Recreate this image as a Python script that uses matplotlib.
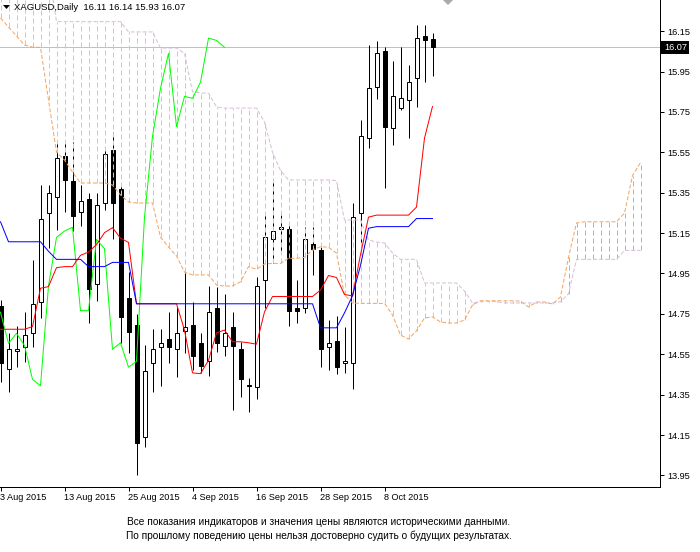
import matplotlib
matplotlib.use('Agg')
import matplotlib.pyplot as plt
from matplotlib.patches import Polygon, Rectangle
import matplotlib.transforms as mtransforms

plt.rcParams['font.family'] = ['Liberation Sans', 'DejaVu Sans']

# ---------------- data ----------------
symbol_title = "XAGUSD,Daily  16.11 16.14 15.93 16.07"
bid = 16.07

date_labels = ["3 Aug 2015", "13 Aug 2015", "25 Aug 2015", "4 Sep 2015",
               "16 Sep 2015", "28 Sep 2015", "8 Oct 2015"]
date_bars = [0, 8, 16, 24, 32, 40, 48]

price_ticks = [13.95, 14.15, 14.35, 14.55, 14.75, 14.95, 15.15, 15.35,
               15.55, 15.75, 15.95, 16.15]

opens = [14.789, 14.476, 14.565, 14.585, 14.654, 14.807, 15.248, 15.327, 15.532, 15.408,
         15.256, 15.319, 14.897, 15.297, 15.561, 15.367, 14.829, 14.695, 14.142, 14.505,
         14.585, 14.624, 14.575, 14.664, 14.694, 14.604, 14.517, 14.778, 14.593, 14.684,
         14.576, 14.398, 14.387, 14.918, 15.119, 15.169, 15.170, 14.778, 14.778, 15.095,
         15.066, 14.585, 14.616, 14.505, 14.505, 15.248, 15.619, 15.875, 16.051, 15.669,
         15.768, 15.807, 15.917, 16.124, 16.11]
highs = [14.82, 14.654, 14.692, 14.759, 15.017, 15.388, 15.388, 15.596, 15.601, 15.602,
         15.388, 15.347, 15.347, 15.576, 15.652, 15.388, 14.956, 14.750, 14.596, 14.674,
         14.674, 14.759, 14.786, 14.951, 14.810, 14.655, 14.888, 14.885, 14.850, 14.758,
         14.612, 14.434, 14.934, 15.256, 15.409, 15.240, 15.206, 14.918, 15.181, 15.181,
         15.083, 14.718, 14.740, 14.687, 15.301, 15.710, 16.081, 16.101, 16.070, 16.002,
         16.070, 15.982, 16.180, 16.180, 16.14]
lows = [14.414, 14.365, 14.486, 14.513, 14.585, 14.728, 15.075, 15.165, 15.254, 15.160,
        15.185, 14.706, 14.814, 15.264, 15.119, 14.604, 14.555, 13.953, 14.093, 14.365,
        14.395, 14.505, 14.436, 14.555, 14.472, 14.456, 14.443, 14.563, 14.543, 14.274,
        14.337, 14.263, 14.327, 14.778, 15.003, 15.058, 14.692, 14.706, 14.753, 14.943,
        14.486, 14.472, 14.452, 14.456, 14.377, 15.080, 15.570, 15.815, 15.375, 15.586,
        15.760, 15.619, 15.776, 15.900, 15.93]
closes = [14.507, 14.575, 14.578, 14.644, 14.799, 15.220, 15.347, 15.520, 15.415, 15.236,
          15.309, 14.873, 15.288, 15.542, 15.297, 14.736, 14.662, 14.112, 14.467, 14.576,
          14.604, 14.585, 14.654, 14.684, 14.543, 14.494, 14.758, 14.604, 14.654, 14.593,
          14.426, 14.394, 14.888, 15.129, 15.160, 15.179, 14.766, 14.766, 15.119, 15.073,
          14.575, 14.607, 14.486, 14.515, 15.228, 15.629, 15.867, 16.040, 15.677, 15.827,
          15.817, 15.897, 16.115, 16.104, 16.07]

tenkan = [14.674, 14.674, 14.674, 14.674, 14.687, 14.877, 14.885, 14.979, 14.984, 14.984,
          15.040, 15.056, 15.093, 15.152, 15.177, 15.125, 15.104, 14.80, 14.80, 14.80,
          14.80, 14.80, 14.80, 14.670, 14.458, 14.454, 14.520, 14.656, 14.670, 14.612,
          14.612, 14.607, 14.600, 14.760, 14.836, 14.836, 14.836, 14.836, 14.836, 14.836,
          14.868, 14.940, 14.930, 14.846, 14.839, 15.043, 15.229, 15.239, 15.239, 15.239,
          15.239, 15.239, 15.279, 15.620, 15.777]
kijun = [15.206, 15.107, 15.107, 15.107, 15.107, 15.107, 15.060, 15.020, 15.020, 15.020,
         15.020, 14.984, 14.984, 14.984, 15.005, 15.005, 15.005, 14.80, 14.80, 14.80,
         14.80, 14.80, 14.80, 14.80, 14.80, 14.80, 14.80, 14.80, 14.80, 14.80,
         14.80, 14.80, 14.80, 14.80, 14.80, 14.80, 14.80, 14.80, 14.80, 14.80,
         14.681, 14.681, 14.681, 14.755, 14.840, 14.990, 15.174, 15.182, 15.182, 15.182,
         15.182, 15.182, 15.222, 15.222, 15.222]

span_a = [16.215, 16.170, 16.126, 16.081, 16.071, 16.069, 15.809, 15.551, 15.512, 15.452,
          15.398, 15.398, 15.398, 15.398, 15.388, 15.339, 15.304, 15.299, 15.299, 15.299,
          15.130, 15.081, 15.037, 14.957, 14.943, 14.943, 14.943, 14.893, 14.888, 14.888,
          14.909, 14.984, 14.971, 14.997, 15.000, 15.000, 15.025, 15.025, 15.030, 15.066,
          15.083, 15.080, 15.051, 14.843, 14.804, 14.802, 14.802, 14.802, 14.802, 14.745,
          14.645, 14.626, 14.666, 14.730, 14.735, 14.710, 14.705, 14.705, 14.720, 14.794,
          14.815, 14.815, 14.815, 14.815, 14.815, 14.813, 14.784, 14.809, 14.809, 14.799,
          14.834, 15.030, 15.200, 15.206, 15.206, 15.206, 15.206, 15.206, 15.249, 15.435,
          15.499]
span_b = [16.45, 16.45, 16.45, 16.45, 16.45, 16.45, 16.45, 16.197, 16.197, 16.197,
          16.197, 16.197, 16.197, 16.197, 16.197, 16.197, 16.146, 16.146, 16.146, 16.146,
          16.066, 16.066, 16.066, 16.040, 15.850, 15.843, 15.843, 15.775, 15.769, 15.769,
          15.769, 15.769, 15.769, 15.700, 15.550, 15.460, 15.413, 15.413, 15.413, 15.413,
          15.413, 15.413, 15.410, 15.215, 15.215, 15.215, 15.116, 15.106, 15.101, 15.051,
          15.020, 15.020, 15.020, 14.903, 14.903, 14.903, 14.903, 14.903, 14.863, 14.804,
          14.811, 14.811, 14.811, 14.804, 14.804, 14.804, 14.804, 14.804, 14.804, 14.804,
          14.810, 14.849, 15.020, 15.020, 15.020, 15.020, 15.020, 15.020, 15.064, 15.064,
          15.064]

chikou_shift = 26

# ---------------- figure ----------------
W, H = 700, 552
fig = plt.figure(figsize=(W / 100, H / 100), dpi=100)
ax = fig.add_axes([0, 65 / H, 660 / W, 487 / H])

PX = 0.72  # one pixel in points
SANDY = '#F4A460'
THISTLE = '#D8BFD8'

n = len(closes)
xs = list(range(n))

ax.axhline(bid, color='#C0C0C0', lw=PX, zorder=1)

# candles
ax.vlines(xs, lows, highs, color='black', lw=PX, zorder=2)
bottoms = [min(o, c) for o, c in zip(opens, closes)]
heights = [abs(c - o) for o, c in zip(opens, closes)]
fills = ['white' if c >= o else 'black' for o, c in zip(opens, closes)]
ax.bar(xs, heights, bottom=bottoms, width=0.5, color=fills, edgecolor='black',
       lw=PX, zorder=2.5)

# cloud hatching
for i, (a, b) in enumerate(zip(span_a, span_b)):
    col = SANDY if a > b else THISTLE
    ax.vlines(i, min(a, b), max(a, b), colors=col, linestyles=[(0, (5, 3))],
              lw=PX, zorder=3)

# ichimoku lines
ax.plot(range(len(span_a)), span_a, color=SANDY, lw=PX, dashes=(4, 2), zorder=4)
ax.plot(range(len(span_b)), span_b, color=THISTLE, lw=PX, dashes=(4, 2), zorder=4)
ax.plot(range(len(tenkan)), tenkan, color='#FF0000', lw=PX, zorder=4.2)
ax.plot(range(len(kijun)), kijun, color='#0000FF', lw=PX, zorder=4.3)
ax.plot(range(n - chikou_shift), closes[chikou_shift:], color='#00FF00', lw=PX, zorder=4.1)

# axes
ax.set_xlim(-0.0625, 82.4375)
ax.set_ylim(13.893, 16.304)
for s in ['left', 'top']:
    ax.spines[s].set_visible(False)
for s in ['right', 'bottom']:
    ax.spines[s].set_linewidth(PX)
    ax.spines[s].set_color('black')

ax.yaxis.tick_right()
ax.set_yticks(price_ticks)
ax.set_yticklabels([f"{v:.2f}" for v in price_ticks])
ax.tick_params(axis='y', length=3, width=PX, pad=2, labelsize=6.6, colors='black')

ax.set_xticks(date_bars)
ax.set_xticklabels(date_labels)
ax.tick_params(axis='x', length=3, width=PX, pad=1, labelsize=6.6, colors='black')
for lab in ax.get_xticklabels():
    lab.set_horizontalalignment('left')

# current price label
trans = mtransforms.blended_transform_factory(ax.transAxes, ax.transData)
ax.add_patch(Rectangle((1.0 + 1 / 660, bid - 6.5 / 202), 28 / 660, 13 / 202,
                       transform=trans, facecolor='black', edgecolor='none',
                       clip_on=False, zorder=6))
ax.text(1.0 + 4 / 660, bid, f"{bid:.2f}", transform=trans, ha='left', va='center',
        color='white', fontsize=6.6, clip_on=False, zorder=7)

# header
def fp(x, y):
    return (x / W, 1 - y / H)

fig.patches.append(Polygon([fp(3, 5), fp(10, 5), fp(6.5, 9)], closed=True,
                           facecolor='black', edgecolor='none',
                           transform=fig.transFigure, figure=fig))
fig.text(14 / W, 1 - 7.5 / H, symbol_title, fontsize=6.8, color='black',
         ha='left', va='center')

# chart shift marker
fig.patches.append(Polygon([fp(443, 0), fp(453, 0), fp(448, 5)], closed=True,
                           facecolor='#A8A8A8', edgecolor='none',
                           transform=fig.transFigure, figure=fig))

# disclaimer
fig.text(319 / W, 1 - 522 / H,
         "Все показания индикаторов и значения цены являются историческими данными.",
         fontsize=7.3, ha='center', va='center', color='black')
fig.text(319 / W, 1 - 536 / H,
         "По прошлому поведению цены нельзя достоверно судить о будущих результатах.",
         fontsize=7.3, ha='center', va='center', color='black')

fig.savefig('out.png', dpi=100)
